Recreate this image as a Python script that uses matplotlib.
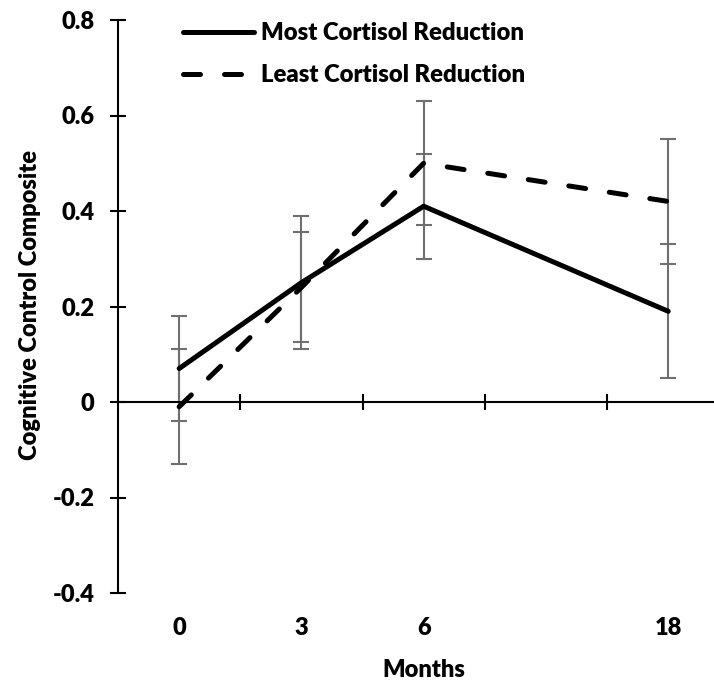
# Cognitive control composite by cortisol reduction group

import matplotlib
matplotlib.use("Agg")
import matplotlib.pyplot as plt

plt.rcParams['font.family'] = ['Lato', 'DejaVu Sans']
plt.rcParams['font.weight'] = 'heavy'
WT = 'heavy'

# data
months = ["0", "3", "6", "18"]
month_slot = [0, 1, 2, 4]          # category slots (12 months slot left empty)
most_vals = [0.07, 0.25, 0.41, 0.19]
most_err = [0.11, 0.14, 0.11, 0.14]
least_vals = [-0.01, 0.24, 0.50, 0.42]
least_err = [0.12, 0.115, 0.13, 0.13]
yticks = [-0.4, -0.2, 0, 0.2, 0.4, 0.6, 0.8]
ytick_labels = ["-0.4", "-0.2", "0", "0.2", "0.4", "0.6", "0.8"]

W, H = 714, 686
fig = plt.figure(figsize=(W / 100, H / 100), dpi=100)
ax = fig.add_axes([118 / W, 1 - 593 / H, (W - 118) / W, 573 / H])

err_color = "#6f6f6f"
ax.errorbar(month_slot, most_vals, yerr=most_err, fmt='none', ecolor=err_color,
            elinewidth=1.5, capsize=6, capthick=1.5, zorder=2)
ax.errorbar(month_slot, least_vals, yerr=least_err, fmt='none', ecolor=err_color,
            elinewidth=1.5, capsize=6, capthick=1.5, zorder=2)

line_most, = ax.plot(month_slot, most_vals, color='black', lw=3.6,
                     solid_capstyle='round', zorder=3, label='Most Cortisol Reduction')
line_least, = ax.plot(month_slot, least_vals, color='black', lw=3.6,
                      dashes=(3.4, 4.8), dash_capstyle='round', zorder=3,
                      label='Least Cortisol Reduction')

ax.set_xlim(-0.5, (W - 179) / 122.3)
ax.set_ylim(-0.4, 0.8)

# axes look
ax.spines['top'].set_visible(False)
ax.spines['right'].set_visible(False)
ax.spines['bottom'].set_position(('data', 0))
for s in ['left', 'bottom']:
    ax.spines[s].set_linewidth(1.5)

ax.set_yticks(yticks)
ax.set_yticklabels(ytick_labels, fontweight=WT)
ax.tick_params(axis='y', direction='inout', length=12, width=1.5, pad=11, labelsize=17)
ax.set_xticks([0.5, 1.5, 2.5, 3.5])
ax.set_xticklabels([])
ax.tick_params(axis='x', direction='inout', length=11, width=1.5)

# month labels sit below the plot, not on the zero line
for pos, lab in zip(month_slot, months):
    ax.text(pos, -35 / 573, lab, transform=ax.get_xaxis_transform(),
            ha='center', va='center', fontsize=17, fontweight=WT)

fig.text(424 / W, 1 - 670 / H, "Months", ha='center', va='center',
         fontsize=17, fontweight=WT)
fig.text(30 / W, 1 - 305 / H, "Cognitive Control Composite", ha='center',
         va='center', rotation=90, fontsize=17, fontweight=WT)

leg = ax.legend(loc='upper left', bbox_to_anchor=(183 / W, 1 - 22 / H),
                bbox_transform=fig.transFigure, frameon=False, borderpad=0,
                borderaxespad=0, handlelength=2.96, handletextpad=0.3,
                labelspacing=0.85, prop={'size': 17.2, 'weight': WT})

plt.savefig("out.png", dpi=100)
